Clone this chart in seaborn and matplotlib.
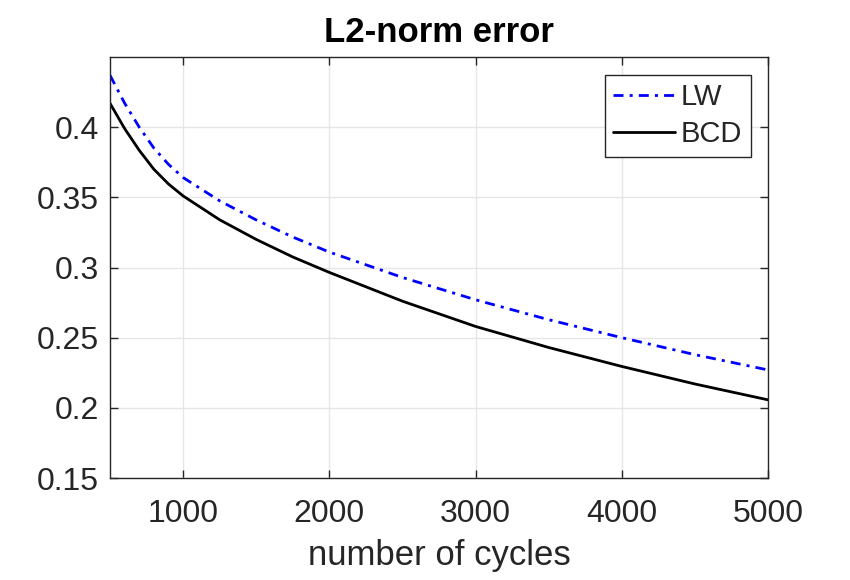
import matplotlib
matplotlib.use("Agg")
import matplotlib.pyplot as plt
import seaborn as sns
import pandas as pd

# ---- data ----
cycles = [500, 600, 700, 800, 900, 1000, 1250, 1500, 1750, 2000,
          2500, 3000, 3500, 4000, 4500, 5000]
lw_err = [0.437, 0.4171, 0.4000, 0.3851, 0.3735, 0.3641, 0.3475, 0.3339, 0.3217, 0.311,
          0.2929, 0.277, 0.2628, 0.250, 0.2379, 0.227]
bcd_err = [0.417, 0.399, 0.3835, 0.370, 0.3595, 0.351, 0.334, 0.320, 0.3075, 0.2965,
           0.276, 0.258, 0.243, 0.2295, 0.217, 0.2057]
x_ticks = [1000, 2000, 3000, 4000, 5000]
y_ticks = [0.15, 0.2, 0.25, 0.3, 0.35, 0.4]
y_tick_labels = ["0.15", "0.2", "0.25", "0.3", "0.35", "0.4"]

sns.set_theme(style="white")
plt.rcParams["font.family"] = ["Liberation Sans", "DejaVu Sans"]

df = pd.DataFrame({"cycles": cycles, "LW": lw_err, "BCD": bcd_err})

fig = plt.figure(figsize=(8.5, 5.8), dpi=100)
ax = fig.add_axes([110 / 850, 1 - 478 / 580, (768 - 110) / 850, (478 - 57) / 580])

sns.lineplot(data=df, x="cycles", y="LW", ax=ax, color="#0000ff", linewidth=2.0,
             linestyle=(0, (3.6, 2.2, 1.1, 2.2)), label="LW")
sns.lineplot(data=df, x="cycles", y="BCD", ax=ax, color="black", linewidth=2.0,
             linestyle="-", label="BCD")

ax.set_xlim(500, 5000)
ax.set_ylim(0.15, 0.45)
ax.set_xticks(x_ticks)
ax.set_xticklabels([str(t) for t in x_ticks])
ax.set_yticks(y_ticks)
ax.set_yticklabels(y_tick_labels)

ax.grid(True, color="#e6e6e6", linewidth=1.0)
ax.set_axisbelow(True)
for s in ax.spines.values():
    s.set_visible(True)
    s.set_color("#262626")
    s.set_linewidth(1.0)

ax.tick_params(axis="both", which="both", direction="in", length=6, width=1.0,
               color="#262626", labelcolor="#262626", labelsize=23,
               top=True, right=True, bottom=True, left=True,
               labeltop=False, labelright=False)
ax.tick_params(axis="x", pad=15)
ax.tick_params(axis="y", pad=8)

ax.set_xlabel("number of cycles", fontsize=25, color="#262626", labelpad=7)
ax.set_ylabel("")
ax.set_title("L2-norm error", fontsize=25, fontweight="bold", color="black", pad=11)

leg = ax.legend(loc="upper right", fontsize=21, frameon=True, fancybox=False,
                shadow=False, handlelength=2.1, handletextpad=0.2,
                borderpad=0.3, labelspacing=0.3, borderaxespad=0.6)
leg.get_frame().set_edgecolor("#262626")
leg.get_frame().set_linewidth(1.0)
leg.get_frame().set_alpha(1.0)

fig.savefig("out.png", dpi=100)
